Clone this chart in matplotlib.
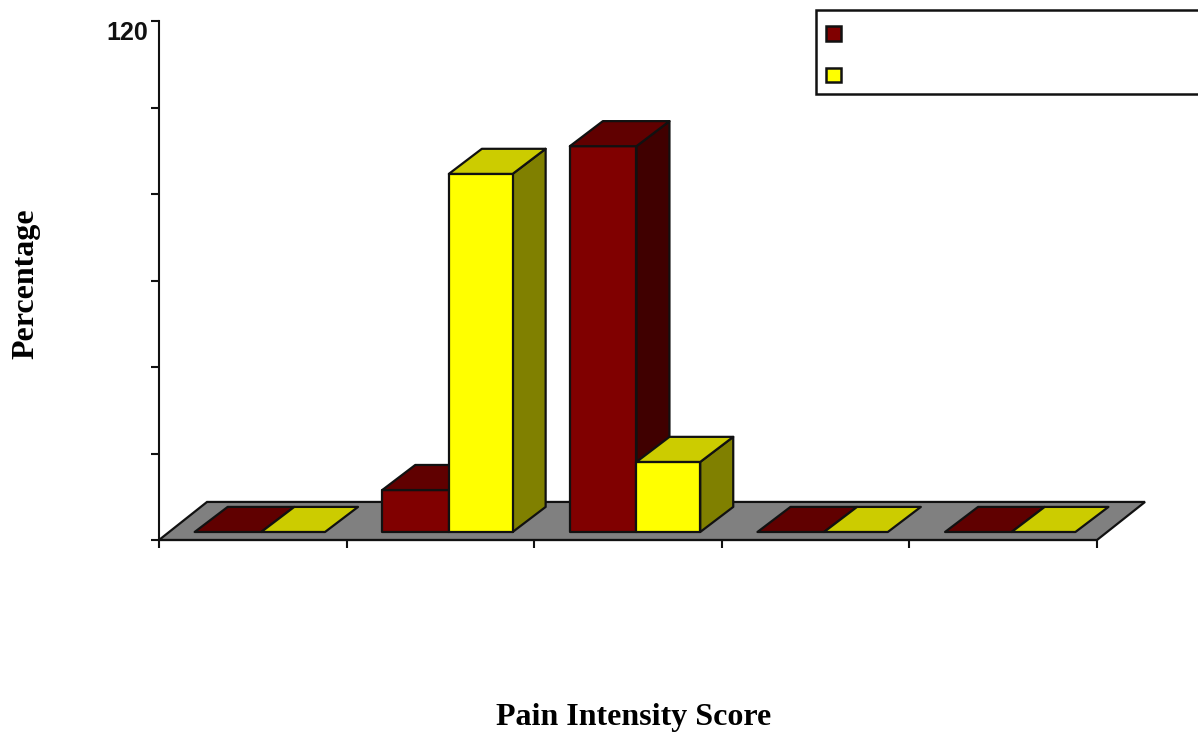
#!/usr/bin/env python
import matplotlib
matplotlib.use("Agg")
import matplotlib.pyplot as plt
from matplotlib.patches import Polygon, Rectangle
from matplotlib.transforms import ScaledTranslation

W, H = 1198, 734

categories = ["", "", "", "", ""]
red_values = [0, 9.7, 89.2, 0, 0]
yellow_values = [0, 82.8, 16.2, 0, 0]
y_ticks = [0, 20, 40, 60, 80, 100, 120]
y_labels = ["", "", "", "", "", "", "120"]

red_colors = ("#800000", "#600000", "#400000")
yellow_colors = ("#FFFF00", "#CCCC00", "#808000")

# 3d look, in data units
depth_x = 0.176
depth_y = 5.8
base_y = 1.85
floor_depth_x = 0.256
floor_depth_y = 8.8
bar_offset = 0.19
red_width = 0.355
yellow_width = 0.34


def bar3d(ax, x, width, value, colors):
    front, top, side = colors
    y0 = base_y
    y1 = base_y + value
    kw = dict(edgecolor="#111111", linewidth=1.6, joinstyle="round", clip_on=False)
    if value > 0:
        ax.add_patch(Polygon([(x + width, y0), (x + width + depth_x, y0 + depth_y),
                              (x + width + depth_x, y1 + depth_y), (x + width, y1)],
                             facecolor=side, **kw))
        ax.add_patch(Rectangle((x, y0), width, value, facecolor=front, **kw))
    ax.add_patch(Polygon([(x, y1), (x + depth_x, y1 + depth_y),
                          (x + width + depth_x, y1 + depth_y), (x + width, y1)],
                         facecolor=top, **kw))


fig = plt.figure(figsize=(W / 100, H / 100), dpi=100)
ax = fig.add_axes([159 / W, 1 - 540 / H, 938 / W, 519 / H])
ax.patch.set_visible(False)
ax.set_xlim(0, len(categories))
ax.set_ylim(0, 120)

# grey floor
ax.add_patch(Polygon([(0, 0), (floor_depth_x, floor_depth_y),
                      (len(categories) + floor_depth_x, floor_depth_y), (len(categories), 0)],
                     facecolor="#808080", edgecolor="#111111", linewidth=1.6, clip_on=False))

for i in range(len(categories)):
    bar3d(ax, i + bar_offset, red_width, red_values[i], red_colors)
    bar3d(ax, i + bar_offset + red_width, yellow_width, yellow_values[i], yellow_colors)

for s in ["top", "right"]:
    ax.spines[s].set_visible(False)
for s in ["left", "bottom"]:
    ax.spines[s].set_linewidth(1.5)
    ax.spines[s].set_color("#111111")
    ax.spines[s].set_zorder(5)

ax.set_xticks(range(len(categories) + 1))
ax.set_xticklabels(categories + [""])
ax.set_yticks(y_ticks)
ax.set_yticklabels(y_labels, fontfamily="Liberation Sans", fontweight="bold", fontsize=18, color="#111111")
ax.tick_params(axis="both", length=6, width=1.5, color="#111111")
ax.tick_params(axis="y", pad=2)
# the 120 sits a bit under its tick
shift = ScaledTranslation(0, -9 / 100, fig.dpi_scale_trans)
for lab in ax.get_yticklabels():
    lab.set_transform(lab.get_transform() + shift)

fig.text(633.5 / W, 1 - 717.5 / H, "Pain Intensity Score", ha="center", va="center",
         fontfamily="Liberation Serif", fontweight="bold", fontsize=23, color="black")
fig.text(26 / W, 1 - 284 / H, "Percentage", ha="center", va="center", rotation=90,
         fontfamily="Liberation Serif", fontweight="bold", fontsize=23, color="black")

# legend box, its labels are blank in the source
fig.add_artist(Rectangle((816 / W, 1 - 94 / H), 400 / W, 84 / H, transform=fig.transFigure,
                         facecolor="white", edgecolor="#111111", linewidth=1.8))
fig.add_artist(Rectangle((826 / W, 1 - 41 / H), 15 / W, 15 / H, transform=fig.transFigure,
                         facecolor=red_colors[0], edgecolor="#111111", linewidth=1.8))
fig.add_artist(Rectangle((826 / W, 1 - 82 / H), 15 / W, 14 / H, transform=fig.transFigure,
                         facecolor=yellow_colors[0], edgecolor="#111111", linewidth=1.8))

fig.savefig("out.png", dpi=100)
